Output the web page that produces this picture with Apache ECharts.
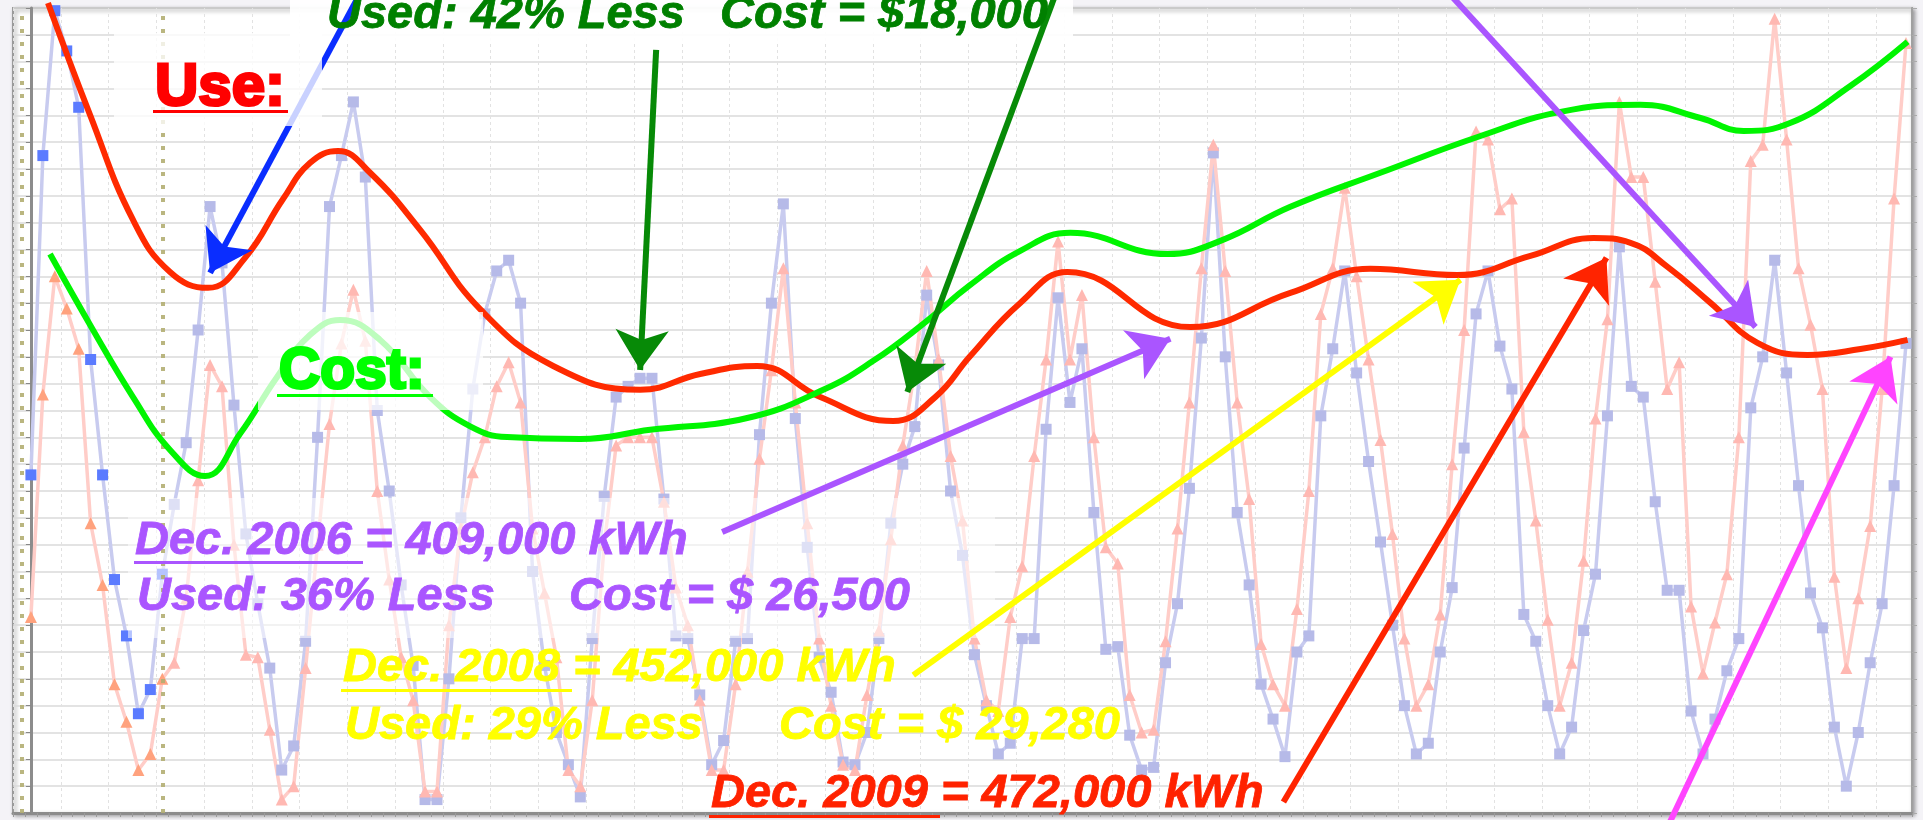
<!DOCTYPE html>
<html>
<head>
<meta charset="utf-8">
<title>Electricity use and cost</title>
<script src="https://cdn.jsdelivr.net/npm/echarts@6/dist/echarts.min.js"></script>
<style>
  html, body { margin: 0; padding: 0; background: #f4f3f7; }
  #chart { width: 1923px; height: 820px; }
</style>
</head>
<body>
<div id="chart"></div>
<script>
// monthly readings, Dec 1998 .. Jan 2012 (grid units, axis labels are not shown)
const monthNames = ['Jan','Feb','Mar','Apr','May','Jun','Jul','Aug','Sep','Oct','Nov','Dec']
const firstYear = 1998
const firstMonth = 11
const useKwh = [
  12.6, 24.5, 29.9, 28.4, 26.3, 16.9, 12.6, 8.7, 6.6, 3.7, 4.6, 8.9,
  11.5, 13.8, 18.0, 22.6, 20.5, 15.2, 10.4, 7.8, 5.4, 1.6, 2.5, 6.4,
  14.0, 22.6, 24.5, 26.5, 23.7, 15.0, 12.0, 8.5, 5.5, 0.5, 0.5, 5.0,
  11.0, 15.8, 18.6, 20.2, 20.6, 19.0, 9.0, 5.5, 3.0, 1.8, 0.6, 6.5,
  11.8, 15.5, 15.9, 16.2, 16.2, 11.7, 6.6, 6.5, 4.4, 1.8, 2.7, 6.4,
  6.5, 14.1, 19.0, 22.7, 14.7, 9.9, 5.8, 4.5, 1.9, 1.8, 3.0, 6.5,
  10.8, 13.0, 14.4, 19.3, 16.7, 12.0, 9.6, 5.9, 4.0, 2.2, 2.6, 6.5,
  6.5, 14.3, 19.2, 15.3, 17.3, 11.2, 6.1, 6.2, 2.9, 1.6, 1.7, 5.6,
  7.8, 12.1, 17.7, 24.6, 17.0, 11.2, 8.5, 4.8, 3.5, 2.1, 6.0, 6.6,
  14.8, 17.3, 20.2, 16.4, 13.1, 10.1, 7.0, 4.0, 2.2, 2.6, 6.0, 8.4,
  13.6, 18.6, 20.2, 17.4, 15.8, 7.4, 6.4, 4.0, 2.2, 3.2, 6.8, 8.9,
  14.8, 21.1, 15.9, 15.5, 11.6, 8.3, 8.3, 3.8, 2.2, 3.5, 5.3, 6.5,
  15.1, 17.0, 20.6, 16.4, 12.2, 8.2, 6.9, 3.2, 1.0, 3.0, 5.6, 7.8,
  12.2, 17.5
]
const costUsd = [
  7.3, 15.6, 20.0, 18.8, 17.3, 10.8, 8.5, 4.8, 3.4, 1.6, 2.2, 5.0,
  5.6, 8.0, 12.4, 16.7, 15.9, 10.0, 5.9, 5.8, 3.1, 0.5, 1.0, 5.4,
  10.0, 14.5, 17.5, 19.5, 17.6, 12.0, 8.7, 5.8, 4.2, 0.8, 0.8, 7.0,
  10.6, 12.7, 14.0, 15.9, 16.8, 15.3, 10.6, 8.2, 5.8, 1.6, 1.0, 4.2,
  10.0, 13.7, 14.0, 14.0, 14.0, 11.6, 8.4, 7.0, 4.2, 1.6, 1.6, 4.8,
  9.0, 13.2, 16.5, 20.3, 15.3, 10.8, 6.5, 4.0, 1.8, 1.6, 4.4, 6.8,
  10.2, 13.7, 16.5, 20.2, 16.9, 13.3, 10.9, 6.5, 4.2, 3.8, 7.3, 9.2,
  13.3, 16.9, 21.3, 16.9, 19.3, 14.0, 9.9, 9.3, 4.4, 3.0, 3.1, 6.4,
  10.6, 15.3, 20.3, 24.9, 20.2, 15.3, 11.7, 6.3, 4.8, 4.0, 7.6, 12.0,
  18.6, 20.3, 23.3, 20.0, 16.9, 13.9, 10.4, 6.5, 4.0, 4.8, 7.4, 13.0,
  18.0, 25.4, 25.1, 22.5, 22.9, 14.2, 10.9, 7.2, 4.0, 5.6, 9.4, 14.7,
  18.4, 26.5, 23.7, 23.7, 19.8, 15.8, 16.8, 7.7, 5.2, 7.1, 8.9, 14.0,
  24.3, 24.9, 29.6, 25.1, 20.3, 18.2, 15.8, 8.8, 5.4, 8.0, 10.7, 15.8,
  22.9, 28.7
]

// hand drawn trend curves and arrows, in [month index, grid units]
const useTrend = [
  [1.43,30.19],[4.95,26.02],[8.55,22.1],[11.65,20.16],[14.83,19.57],[17.93,20.69],[21.11,22.88],
  [23.38,24.23],[25.72,24.67],[28.4,23.86],[32.59,21.73],[37.61,18.78],[43.73,16.66],[51.01,15.77],
  [56.04,16.36],[60.81,16.66],[66.09,15.5],[72.2,14.61],[75.72,15.5],[78.65,17.03],[82.84,19.01],
  [86.78,20.16],[97.08,18.11],[105.45,19.38],[112.15,20.28],[119.44,20.05],
  [125.55,20.76],[130.83,21.43],[133.93,21.25],[137.03,20.35],[140.63,19.01],[144.56,17.52],
  [148.75,17.07],[153.19,17.29],[157.13,17.63]
]
const costTrend = [
  [1.6,20.83],[5.2,18.0],[8.55,15.5],[11.65,13.53],[14.58,12.56],[17.51,14.13],[20.61,16.25],
  [23.38,17.82],[25.89,18.37],[29.24,17.63],[33.43,15.5],[36.78,14.41],[39.87,14.01],[45.99,13.94],
  [51.85,14.28],[59.97,14.72],[66.34,15.77],[70.53,16.85],[74.71,18.23],[78.65,19.68],[82.84,20.95],
  [87.03,21.62],[95.15,20.83],[99.59,21.32],[105.45,22.59],[112.99,23.86],[121.37,25.23],
  [128.07,26.13],[134.76,26.39],[139.79,25.9],[143.4,25.42],[147.34,25.72],[152.36,27.1],[157.13,28.74]
]
const arrowFrom = [[27.4,30.41],[52.35,28.44],[85.77,30.49],[57.88,10.47],[118.85,30.49],[73.88,5.14],[104.87,0.41],[137.11,-0.45]]
const arrowTo = [[15.0,20.13],[51.01,16.51],[73.38,15.69],[95.4,17.67],[144.4,18.11],[119.69,19.87],[131.92,20.69],[155.7,17.0]]
const arrowColors = ['#0a2dff','#078a07','#078a07','#aa55ff','#aa55ff','#ffff00','#ff2400','#ff44ff']
const markerMonths = [-0.75, 11.06]

const months = useKwh.map((_, k) => {
  const t = firstMonth + k
  return monthNames[t % 12] + '-' + String(firstYear + Math.floor(t / 12)).slice(2)
})
const categories = [''].concat(months)

const firstYearMonths = 12
const useData = ['-'].concat(useKwh.map((v, k) => k < firstYearMonths ? { value: v, itemStyle: { color: '#5b7bff' } } : v))
const costData = ['-'].concat(costUsd.map((v, k) => k < firstYearMonths ? { value: v, itemStyle: { color: '#ffa27e' } } : v))

const FONT = '"Liberation Sans", Arial, sans-serif'
function label (text, x, base, size, color, opts) {
  opts = opts || {}
  return {
    type: 'text',
    z: 20,
    x: x,
    y: base - size * 0.35,
    style: Object.assign({
      text: text,
      font: (opts.italic ? 'italic ' : '') + 'bold ' + size + 'px ' + FONT,
      fill: color,
      verticalAlign: 'middle',
      textVerticalAlign: 'middle',
      stroke: color,
      lineWidth: opts.stroke || 0.8
    }, opts.shadow ? { shadowColor: 'rgba(0,0,0,0.3)', shadowBlur: 3, shadowOffsetX: 2, shadowOffsetY: 2 } : {})
  }
}
function underline (x1, x2, y, color) {
  return { type: 'rect', z: 20, shape: { x: x1, y: y, width: x2 - x1, height: 3 }, style: { fill: color } }
}
function box (x, y, w, h, alpha, z) {
  return { type: 'rect', z: z, shape: { x: x, y: y, width: w, height: h }, style: { fill: 'rgba(255,255,255,' + alpha + ')' } }
}

const chart = echarts.init(document.getElementById('chart'))
const option = {
  animation: false,
  backgroundColor: '#f4f3f7',
  grid: {
    left: 13, right: 11, top: 8, bottom: 7,
    show: true,
    backgroundColor: '#ffffff',
    borderColor: '#9a9a9a',
    borderWidth: 2,
    shadowColor: 'rgba(0,0,0,0.35)',
    shadowBlur: 4,
    shadowOffsetX: 2,
    shadowOffsetY: 2
  },
  xAxis: [
    {
      type: 'category',
      data: categories,
      boundaryGap: true,
      axisLine: { lineStyle: { color: '#8c8c8c', width: 3 } },
      axisTick: { show: true, interval: 0, length: 4, lineStyle: { color: '#9a9a9a' } },
      axisLabel: { show: false },
      splitLine: { show: true, interval: 3, lineStyle: { color: '#e2e2e2', type: [3, 3] } }
    },
    { type: 'value', min: -1.5, max: 157.5, show: false }
  ],
  yAxis: [
    {
      type: 'value', min: 0, max: 30, interval: 1,
      axisLine: { show: true, lineStyle: { color: '#8c8c8c', width: 3 } },
      axisTick: { show: true, length: 5, lineStyle: { color: '#888' } },
      axisLabel: { show: false },
      splitLine: { lineStyle: { color: '#dadada', width: 1.5 } }
    },
    {
      type: 'value', min: 0, max: 30, interval: 1, position: 'right',
      axisLine: { show: true, lineStyle: { color: '#a0a0a0', width: 2 } },
      axisTick: { show: true, length: 5, lineStyle: { color: '#aaa' } },
      axisLabel: { show: false },
      splitLine: { show: false }
    }
  ],
  series: [
    {
      name: 'markers',
      type: 'line',
      xAxisIndex: 1,
      data: [],
      z: 1,
      silent: true,
      markLine: {
        silent: true,
        symbol: 'none',
        label: { show: false },
        lineStyle: { color: '#b3ae72', width: 4, type: [4, 9], opacity: 0.9 },
        data: markerMonths.map(m => ({ xAxis: m }))
      }
    },
    {
      name: 'kWh',
      type: 'line',
      data: useData,
      z: 2,
      symbol: 'rect',
      symbolSize: 11,
      showAllSymbol: true,
      lineStyle: { color: '#c8cbef', width: 3.5 },
      itemStyle: { color: '#b6bae8' }
    },
    {
      name: 'Cost',
      type: 'line',
      data: costData,
      z: 2,
      symbol: 'triangle',
      symbolSize: 12,
      showAllSymbol: true,
      lineStyle: { color: '#ffcdc8', width: 3.5 },
      itemStyle: { color: '#ffb8b2' }
    },
    {
      name: 'Use trend',
      type: 'line',
      xAxisIndex: 1,
      data: useTrend,
      smooth: 0.45,
      showSymbol: false,
      clip: false,
      z: 5,
      lineStyle: { color: '#ff2a00', width: 6 }
    },
    {
      name: 'Cost trend',
      type: 'line',
      xAxisIndex: 1,
      data: costTrend,
      smooth: 0.45,
      showSymbol: false,
      clip: false,
      z: 5,
      lineStyle: { color: '#00f500', width: 6 }
    }
  ].concat(arrowFrom.map((from, k) => ({
    type: 'lines',
    coordinateSystem: 'cartesian2d',
    xAxisIndex: 1,
    clip: false,
    z: 6,
    symbol: ['none', 'arrow'],
    symbolSize: [1, 40],
    lineStyle: { color: arrowColors[k], width: 6, opacity: 1 },
    data: [{ coords: [from, arrowTo[k]] }]
  }))),
  graphic: [
    box(290, 0, 783, 42, 0.92, 4),
    box(128, 498, 867, 140, 0.55, 4),
    box(114, 33, 208, 93, 0.78, 10),
    box(258, 312, 225, 98, 0.74, 10),
    label('Use:', 155, 109, 60, '#ff0000', { stroke: 3 }),
    underline(153, 288, 110, '#ff0000'),
    label('Cost:', 279, 392, 57, '#00ff00', { stroke: 3 }),
    underline(277, 433, 394, '#00ff00'),
    label('Used: 42% Less', 327, 31, 47, '#008000', { italic: true }),
    label('Cost = $18,000', 720, 31, 47, '#008000', { italic: true }),
    label('Dec. 2006 = 409,000 kWh', 135, 557, 47, '#aa55ff', { italic: true, shadow: true }),
    underline(134, 363, 561, '#aa55ff'),
    label('Used: 36% Less', 137, 613, 47, '#aa55ff', { italic: true, shadow: true }),
    label('Cost = $ 26,500', 569, 613, 47, '#aa55ff', { italic: true, shadow: true }),
    label('Dec. 2008 = 452,000 kWh', 343, 684, 47, '#ffff00', { italic: true, shadow: true }),
    underline(341, 572, 689, '#ffff00'),
    label('Used: 29% Less', 345, 742, 47, '#ffff00', { italic: true, shadow: true }),
    label('Cost = $ 29,280', 779, 742, 47, '#ffff00', { italic: true, shadow: true }),
    label('Dec. 2009 = 472,000 kWh', 711, 810, 47, '#ff2200', { italic: true, shadow: true }),
    underline(709, 940, 815, '#ff2200')
  ]
}
chart.setOption(option)
</script>
</body>
</html>
